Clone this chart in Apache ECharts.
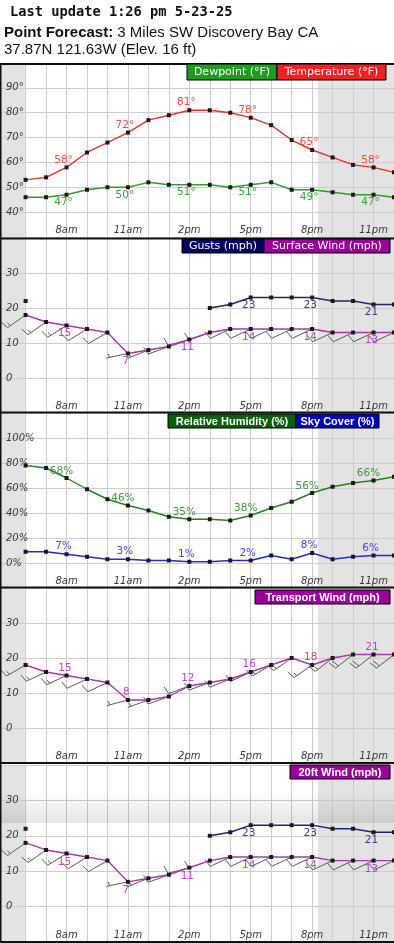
<!DOCTYPE html>
<html><head><meta charset="utf-8">
<style>html,body{margin:0;padding:0;background:#fff;overflow:hidden}#c{width:394px;height:943px}</style>
<script src="https://cdn.jsdelivr.net/npm/echarts@6/dist/echarts.min.js"></script>
</head><body><div id="c"></div>
<script>
// ---- data ----
const hours = [6,7,8,9,10,11,12,13,14,15,16,17,18,19,20,21,22,23,24];
const xTickLabels = {8:'8am',11:'11am',14:'2pm',17:'5pm',20:'8pm',23:'11pm'};
const labelIdx = [2,5,8,11,14,17];
const temperature = [53,54,58,64,68,72,77,79,81,81,80,78,75,69,65,62,59,58,56];
const dewpoint    = [46,46,47,49,50,50,52,51,51,51,50,51,52,49,49,48,47,47,46];
const surfaceWind = [18,16,15,14,13,7,8,9,11,13,14,14,14,14,14,13,13,13,13];
const surfaceGust = [22,null,null,null,null,null,null,null,null,20,21,23,23,23,23,22,22,21,21];
const surfaceDir  = [235,235,238,238,240,258,248,250,255,250,245,245,245,245,245,245,245,245,245];
const humidity    = [78,76,68,59,51,46,42,37,35,35,34,38,44,49,56,61,64,66,69];
const skyCover    = [9,9,7,5,3,3,2,2,1,1,2,2,6,3,8,3,5,6,6];
const transportWind = [18,16,15,14,13,8,8,9,12,13,14,16,18,20,18,20,21,21,21];
const transportDir  = [240,245,245,245,245,255,250,250,250,250,248,245,240,235,235,232,232,232,232];
const wind20ft    = [18,16,15,14,13,7,8,9,11,13,14,14,14,14,14,13,13,13,13];
const gust20ft    = [22,null,null,null,null,null,null,null,null,20,21,23,23,23,23,22,22,21,21];
const dir20ft     = [235,235,238,238,240,258,248,250,255,250,245,245,245,245,245,245,245,245,245];
const nightSpans  = [[4.75,5.96],[20.28,24]];

// ---- layout ----
const X_MIN = 4.75, X_MAX = 24, X_STEP = 0.25;
const panels = [
  {top:63,  height:174, min:30,  max:100, interval:10, unit:'°'},
  {top:238, height:175, min:-10, max:40,  interval:10, unit:''},
  {top:413, height:175, min:-20, max:120, interval:20, unit:'%'},
  {top:588, height:175, min:-10, max:40,  interval:10, unit:''},
  {top:765, height:177, min:-10, max:40,  interval:10, unit:''}
];
const nTicks = Math.round((X_MAX - X_MIN)/X_STEP) + 1;
const splitColors = [];
for (let k=0; k<nTicks; k++){
  const v = X_MIN + k*X_STEP;
  splitColors.push(Math.abs(v-Math.round(v))<1e-6 && v>=6 ? '#cdcdcd' : 'rgba(0,0,0,0)');
}
const axisFont = {fontFamily:'DejaVu Sans', fontStyle:'italic', fontSize:10, color:'#383838'};

const grids = [], xAxes = [], yAxes = [], series = [];
panels.forEach((p,i)=>{
  grids.push({left:0, width:394, top:p.top, height:p.height, show:false, outerBoundsMode:'none', containLabel:false});
  xAxes.push({type:'value', gridIndex:i, min:X_MIN, max:X_MAX, interval:X_STEP, z:2,
    axisLine:{show:false}, axisTick:{show:false},
    splitLine:{show:true, lineStyle:{color:splitColors, width:1}},
    axisLabel:Object.assign({inside:true, margin:2, showMinLabel:false, showMaxLabel:false,
      formatter:v=>xTickLabels[Math.round(v*100)/100]||''}, axisFont)});
  yAxes.push({type:'value', gridIndex:i, min:p.min, max:p.max, interval:p.interval, z:2,
    axisLine:{show:false}, axisTick:{show:false},
    splitLine:{show:true, lineStyle:{color:'#cdcdcd', width:1}},
    axisLabel:Object.assign({inside:true, margin:6, showMinLabel:false, showMaxLabel:false,
      formatter:v=>v+p.unit}, axisFont)});
  series.push({type:'custom', xAxisIndex:i, yAxisIndex:i, z:1, silent:true, clip:true,
    data:nightSpans,
    renderItem:(params, api)=>{
      const cs = params.coordSys;
      const x1 = api.coord([api.value(0), p.min])[0];
      const x2 = api.coord([api.value(1), p.min])[0];
      return {type:'rect', shape:{x:x1, y:cs.y, width:x2-x1, height:cs.height}, style:{fill:'#e3e3e3'}};
    }});
});

function lineSeries(i, vals, color, labelColor, offset, suffix){
  return {type:'line', xAxisIndex:i, yAxisIndex:i, z:3, animation:false,
    data:hours.map((h,k)=>[h, vals[k]]),
    symbol:'rect', symbolSize:4, showSymbol:true, showAllSymbol:true, connectNulls:false,
    lineStyle:{color:color, width:1.4}, itemStyle:{color:'#1a1a1a', borderWidth:0},
    emphasis:{disabled:true},
    label:{show:true, position:'inside', offset:offset, color:labelColor, fontSize:10.5,
      fontFamily:'DejaVu Sans',
      formatter:p=>(labelIdx.indexOf(p.dataIndex)>=0 && p.value[1]!=null) ? p.value[1]+suffix : ''}};
}

function barbSeries(i, vals, dirs){
  return {type:'custom', xAxisIndex:i, yAxisIndex:i, z:2, silent:true, animation:false,
    data:hours.map((h,k)=>[h, vals[k], dirs[k]]),
    renderItem:(params, api)=>{
      const pt = api.coord([api.value(0), api.value(1)]);
      const spd = api.value(1), d = api.value(2)*Math.PI/180;
      const ux = Math.sin(d), uy = -Math.cos(d);
      const L = 22;
      const tx = pt[0]+ux*L, ty = pt[1]+uy*L;
      const px = -uy, py = ux;
      const st = {stroke:'#5a5a5a', lineWidth:1, fill:null};
      const ch = [{type:'line', shape:{x1:pt[0], y1:pt[1], x2:tx, y2:ty}, style:st}];
      const n5 = Math.round(spd*0.869/5);
      const full = Math.floor(n5/2), half = n5%2;
      let k = 0;
      for (; k<full; k++){
        const sx = tx-ux*k*3.5, sy = ty-uy*k*3.5;
        ch.push({type:'line', shape:{x1:sx, y1:sy, x2:sx+px*8+ux*2, y2:sy+py*8+uy*2}, style:st});
      }
      if (half){
        const kk = full===0 ? 1 : k;
        const sx = tx-ux*kk*3.5, sy = ty-uy*kk*3.5;
        ch.push({type:'line', shape:{x1:sx, y1:sy, x2:sx+px*4+ux*1, y2:sy+py*4+uy*1}, style:st});
      }
      return {type:'group', children:ch};
    }};
}

const below = [-2, 8], above = [-3, -7.5];
series.push(lineSeries(0, temperature, '#e8302a', '#ee4a4a', above, '°'));
series.push(lineSeries(0, dewpoint, '#2e9e2e', '#3aa03a', [-3, 7.7], '°'));
series.push(barbSeries(1, surfaceWind, surfaceDir));
series.push(lineSeries(1, surfaceWind, '#a838a8', '#b64ab6', below, ''));
series.push(lineSeries(1, surfaceGust, '#24246e', '#3a3a8a', below, ''));
series.push(lineSeries(2, humidity, '#2a7d2a', '#4a8f4a', [-5, -7], '%'));
series.push(lineSeries(2, skyCover, '#2a2acc', '#4a4ad8', [-3, -7.5], '%'));
series.push(barbSeries(3, transportWind, transportDir));
series.push(lineSeries(3, transportWind, '#a838a8', '#b64ab6', [-1.5, -7.3], ''));
series.push(barbSeries(4, wind20ft, dir20ft));
series.push(lineSeries(4, wind20ft, '#a838a8', '#b64ab6', [-2, 8.5], ''));
series.push(lineSeries(4, gust20ft, '#24246e', '#3a3a8a', [-2, 8.5], ''));

// ---- decorations ----
const graphic = [];
function legend(x, y, w, h, fill, text, font){
  graphic.push({type:'rect', z:50, shape:{x:x, y:y, width:w, height:h}, style:{fill:fill, stroke:'#000', lineWidth:1}});
  graphic.push({type:'text', z:51, x:x+w/2, y:y+h/2+0.5, style:Object.assign({text:text, fill:'#fff',
    align:'center', verticalAlign:'middle'}, font)});
}
const fReg = {fontFamily:'DejaVu Sans', fontSize:11};
const fBold = {fontFamily:'Liberation Sans', fontSize:11, fontWeight:'bold'};
legend(187, 64, 90, 16, '#1f9b1f', 'Dewpoint (°F)', fReg);
legend(277, 64, 109, 16, '#ee2222', 'Temperature (°F)', fReg);
legend(182, 239, 82, 14, '#00005e', 'Gusts (mph)', fReg);
legend(264, 239, 126, 14, '#990099', 'Surface Wind (mph)', fReg);
legend(168, 414, 128, 14, '#0b5e0b', 'Relative Humidity (%)', fBold);
legend(296, 414, 83, 14, '#0000bb', 'Sky Cover (%)', fBold);
legend(255, 590, 135, 14, '#990099', 'Transport Wind (mph)', fBold);
legend(290, 765, 100, 14, '#990099', '20ft Wind (mph)', fBold);

[64, 238.5, 412.5, 587.5, 763, 942].forEach(y=>{
  graphic.push({type:'line', z:40, shape:{x1:0, y1:y, x2:394, y2:y}, style:{stroke:'#111', lineWidth:2}});
});
graphic.push({type:'line', z:40, shape:{x1:0.75, y1:63, x2:0.75, y2:943}, style:{stroke:'#111', lineWidth:1.5}});
graphic.push({type:'rect', z:100, shape:{x:0, y:790, width:394, height:33},
  style:{fill:new echarts.graphic.LinearGradient(0,0,0,1,[{offset:0,color:'rgba(0,0,0,0)'},{offset:1,color:'rgba(0,0,0,0.1)'}])}});

graphic.push({type:'text', z:60, x:10, y:12, style:{text:'Last update 1:26 pm 5-23-25', fill:'#111',
  fontFamily:'DejaVu Sans Mono', fontSize:13.7, fontWeight:'bold', verticalAlign:'middle'}});
graphic.push({type:'text', z:60, x:4, y:33, style:{text:'{b|Point Forecast:} 3 Miles SW Discovery Bay CA', fill:'#111',
  fontFamily:'Liberation Sans', fontSize:15, verticalAlign:'middle',
  rich:{b:{fontFamily:'Liberation Sans', fontSize:15, fontWeight:'bold', fill:'#111'}}}});
graphic.push({type:'text', z:60, x:4, y:50, style:{text:'37.87N 121.63W (Elev. 16 ft)', fill:'#111',
  fontFamily:'Liberation Sans', fontSize:15, verticalAlign:'middle'}});

const chart = echarts.init(document.getElementById('c'), null, {renderer:'canvas', width:394, height:943});
chart.setOption({animation:false, backgroundColor:'#fff', grid:grids, xAxis:xAxes, yAxis:yAxes, series:series, graphic:graphic});
</script></body></html>
